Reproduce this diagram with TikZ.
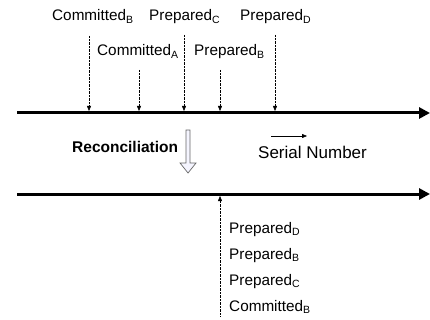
\documentclass[tikz,border=0pt]{standalone}
\usepackage{fontspec}
\setmainfont{Liberation Sans}
\usetikzlibrary{positioning, arrows.meta}

\newcommand\subtag[1]{\raisebox{-2.5pt}{\fontsize{10.5}{12}\selectfont#1}}

\begin{document}
\begin{tikzpicture}[
    x=1pt, y=-1pt,
    node distance=10.2pt,
    axis/.style={line width=3pt, -{Triangle[length=11pt,width=11pt]}},
    probe/.style={densely dotted, -{Triangle[length=5pt,width=4pt]}},
    tag/.style={
        inner sep=0pt,
        anchor=base west,
        font=\fontsize{15.3}{18}\selectfont,
        text height=11pt,
        text depth=4.5pt
    }
]
\useasboundingbox (0,0) rectangle (430,320);

% serial number lines
\coordinate (top0) at (17,113);
\coordinate (top1) at (430,113);
\coordinate (bot0) at (17,194);
\coordinate (bot1) at (430,194);
\draw[axis] (top0) -- (top1);
\draw[axis] (bot0) -- (bot1);

% entries before reconciliation
\node[tag] (cb) at (52,21) {Committed\subtag{B}};
\node[tag] (pc) at (149,21) {Prepared\subtag{C}};
\node[tag] (pd) at (240,21) {Prepared\subtag{D}};
\node[tag] (ca) at (97,56) {Committed\subtag{A}};
\node[tag] (pb) at (194,56) {Prepared\subtag{B}};

\coordinate (cb-s) at (89,36);
\coordinate (ca-s) at (139,70);
\coordinate (pc-s) at (184,35);
\coordinate (pb-s) at (220,70);
\coordinate (pd-s) at (275,35);
\coordinate (cb-e) at (89,111);
\coordinate (ca-e) at (139,111);
\coordinate (pc-e) at (184,111);
\coordinate (pb-e) at (220,111);
\coordinate (pd-e) at (275,111);

\draw[probe] (cb-s) -- (cb-e);
\draw[probe] (ca-s) -- (ca-e);
\draw[probe] (pc-s) -- (pc-e);
\draw[probe] (pb-s) -- (pb-e);
\draw[probe] (pd-s) -- (pd-e);

% reconciliation step
\node[tag, font=\fontsize{15.5}{18}\selectfont\bfseries] (rec) at (72,153) {Reconciliation};
\draw[gray!80!black, fill=blue!4, line width=0.7pt] (186,130) -- (190,130) -- (190,163)
    -- (196,163) -- (188,173) -- (180,163) -- (186,163) -- cycle;

\coordinate (sn0) at (271,136);
\coordinate (sn1) at (307,136);
\draw[-{Triangle[length=5pt,width=4pt]}] (sn0) -- (sn1);
\node[tag, font=\fontsize{17}{20}\selectfont] (sn) at (258,159) {Serial Number};

% merged entries
\coordinate (all-s) at (220,316);
\coordinate (all-e) at (220,196);
\draw[probe] (all-s) -- (all-e);

\node[tag] (pd2) at (229,233) {Prepared\subtag{D}};
\node[tag] (pb2) [below=of pd2.south west, anchor=north west] {Prepared\subtag{B}};
\node[tag] (pc2) [below=of pb2.south west, anchor=north west] {Prepared\subtag{C}};
\node[tag] (cb2) [below=of pc2.south west, anchor=north west] {Committed\subtag{B}};

\end{tikzpicture}
\end{document}
